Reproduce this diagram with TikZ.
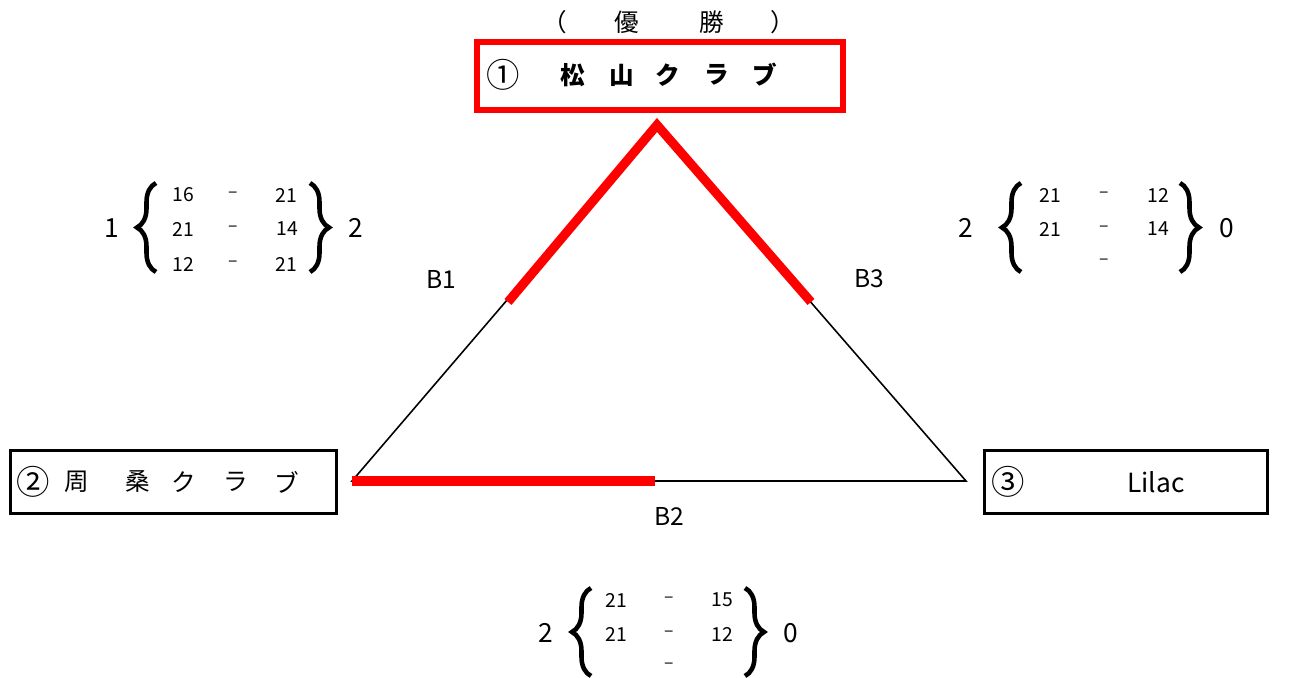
\documentclass[tikz,border=0pt]{standalone}
\usepackage{fontspec}
\setmainfont{Noto Sans CJK JP}
\usetikzlibrary{decorations.pathreplacing}
\definecolor{winred}{RGB}{255,0,0}
\tikzset{
  team/.style={draw=black,line width=1.7pt,minimum width=6.52cm,minimum height=1.26cm,inner sep=0pt},
  champ/.style={draw=winred,line width=3.4pt,minimum width=7.32cm,minimum height=1.36cm,inner sep=0pt},
  jp/.style={font=\fontsize{14}{14}\selectfont,inner sep=0pt},
  jpb/.style={font=\fontsize{14}{14}\selectfont\bfseries,inner sep=0pt},
  circ/.style={font=\fontsize{19}{19}\selectfont,inner sep=0pt},
  lbl/.style={font=\fontsize{14}{14}\selectfont,inner sep=0pt},
  big/.style={font=\fontsize{15}{15}\selectfont,inner sep=0pt},
  sc/.style={font=\fontsize{11}{11}\selectfont,inner sep=0pt},
  dsh/.style={font=\fontsize{10}{10}\selectfont,inner sep=0pt},
  thin/.style={line width=0.9pt,black},
  win/.style={line width=5.2pt,winred},
  brc/.style={decorate,decoration={brace,amplitude=0.38cm},line width=2.6pt},
}
\begin{document}
\begin{tikzpicture}[x=0.02cm,y=-0.02cm]
\useasboundingbox (0,0) rectangle (1295,678);
% title
\node[jp] (p1) at (555,22) {（};
\node[jp] (yu) at (627,22) {優};
\node[jp] (sho) at (712,22) {勝};
\node[jp] (p2) at (783,22) {）};
% boxes
\node[champ] (b1) at (660,76) {};
\node[team] (b2) at (173.5,482) {};
\node[team,minimum width=5.66cm] (b3) at (1126,482) {};
% box texts
\node[circ] (t1a) at (503,75) {①};
\node[jpb] (t1b) at (573,75) {松};
\node[jpb] (t1c) at (622,75) {山};
\node[jpb] (t1d) at (668,75) {ク};
\node[jpb] (t1e) at (717,75) {ラ};
\node[jpb] (t1f) at (765,75) {ブ};
\node[circ] (t2a) at (33,482) {②};
\node[jp] (t2b) at (77,482) {周};
\node[jp] (t2c) at (138,482) {桑};
\node[jp] (t2d) at (184,482) {ク};
\node[jp] (t2e) at (236,482) {ラ};
\node[jp] (t2f) at (287,482) {ブ};
\node[circ] (t3a) at (1008,482) {③};
\node[lbl,font=\fontsize{15}{15}\selectfont] (t3b) at (1156,482) {Lilac};
% triangle
\coordinate (A) at (657,125);
\coordinate (L) at (352,481);
\coordinate (R) at (966,481);
\coordinate (AL) at (508,302);
\coordinate (AR) at (811,302);
\coordinate (LR) at (655,481);
\draw[thin] (A) -- (L) -- (R) -- cycle;
\draw[win] (AL) -- (A) -- (AR);
\draw[win] (L) -- (LR);
\node[lbl] (B1) at (441,279) {B1};
\node[lbl] (B3) at (869,279) {B3};
\node[lbl] (B2) at (669,516) {B2};
% left score
\node[big] (l1) at (112,228) {1};
\node[big] (l2) at (356,228) {2};
\coordinate (lb1) at (156,272); \coordinate (lb2) at (156,183);
\draw[brc] (lb1) -- (lb2);
\coordinate (lb3) at (310,183); \coordinate (lb4) at (310,272);
\draw[brc] (lb3) -- (lb4);
\node[sc] (la1) at (183,195) {16}; \node[dsh] (lm1) at (233,195) {–}; \node[sc] (lc1) at (286,195) {21};
\node[sc] (la2) at (183,229) {21}; \node[dsh] (lm2) at (233,229) {–}; \node[sc] (lc2) at (287,229) {14};
\node[sc] (la3) at (183,264) {12}; \node[dsh] (lm3) at (233,264) {–}; \node[sc] (lc3) at (286,264) {21};
% right score
\node[big] (r1) at (966,228) {2};
\node[big] (r2) at (1227,228) {0};
\coordinate (rb1) at (1021,272); \coordinate (rb2) at (1021,183);
\draw[brc] (rb1) -- (rb2);
\coordinate (rb3) at (1180,183); \coordinate (rb4) at (1180,272);
\draw[brc] (rb3) -- (rb4);
\node[sc] (ra1) at (1050,195) {21}; \node[dsh] (rm1) at (1104,195) {–}; \node[sc] (rc1) at (1158,195) {12};
\node[sc] (ra2) at (1050,229) {21}; \node[dsh] (rm2) at (1104,229) {–}; \node[sc] (rc2) at (1158,229) {14};
\node[dsh] (rm3) at (1104,262) {–};
% bottom score
\node[big] (d1) at (546,633) {2};
\node[big] (d2) at (791,633) {0};
\coordinate (db1) at (591,676); \coordinate (db2) at (591,588);
\draw[brc] (db1) -- (db2);
\coordinate (db3) at (745,588); \coordinate (db4) at (745,676);
\draw[brc] (db3) -- (db4);
\node[sc] (da1) at (616,600) {21}; \node[dsh] (dm1) at (669,600) {–}; \node[sc] (dc1) at (722,600) {15};
\node[sc] (da2) at (616,634) {21}; \node[dsh] (dm2) at (669,634) {–}; \node[sc] (dc2) at (722,634) {12};
\node[dsh] (dm3) at (669,666) {–};
\end{tikzpicture}
\end{document}
